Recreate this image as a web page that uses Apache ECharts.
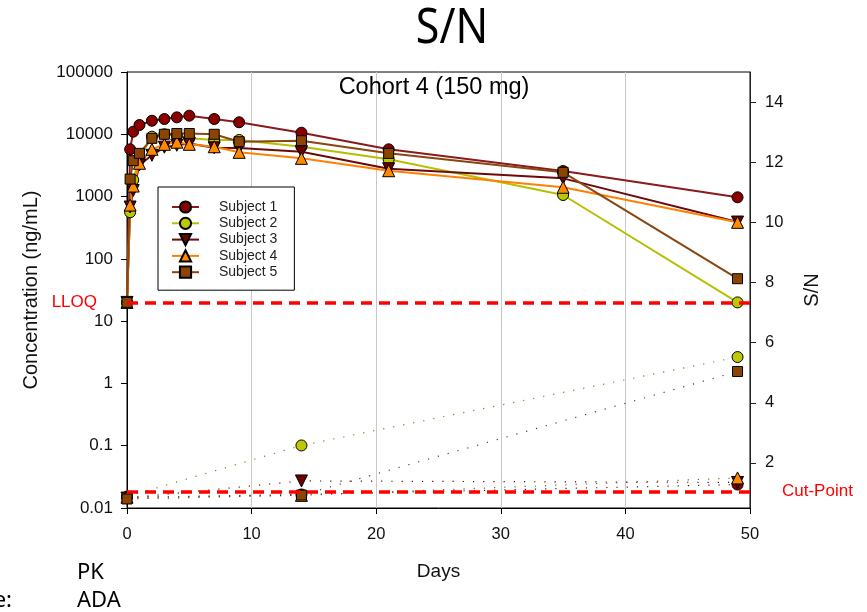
<!DOCTYPE html>
<html>
<head>
<meta charset="utf-8">
<title>S/N</title>
<script src="https://cdn.jsdelivr.net/npm/echarts@6/dist/echarts.min.js"></script>
<style>
  html, body { margin: 0; padding: 0; background: #fff; }
  #chart { width: 867px; height: 612px; }
</style>
</head>
<body>
<div id="chart"></div>
<script>
// Sampling days for the PK (concentration) profile
var pkDays = [0, 0.25, 0.5, 1, 2, 3, 4, 5, 7, 9, 14, 21, 35, 49];

// Serum concentration (ng/mL) per subject
var pkSubject1 = [20, 5740, 11000, 14100, 16500, 17600, 18700, 19900, 17600, 15600, 10600, 5740, 2570, 973];
var pkSubject2 = [20, 560, 1850, 4200, 9140, 10000, 9500, 8600, 8100, 8100, 6310, 3960, 1060, 20];
var pkSubject3 = [20, 680, 1250, 3210, 4600, 6210, 6660, 7120, 6060, 6000, 5250, 2800, 1960, 390];
var pkSubject4 = [20, 731, 1475, 3420, 5740, 6900, 7460, 6900, 6310, 5130, 4110, 2600, 1410, 386];
var pkSubject5 = [20, 1910, 3770, 4940, 8610, 10000, 10300, 10300, 10000, 7600, 7890, 4940, 2450, 48];

// ADA sampling days and signal-to-noise ratios
var adaDays = [0, 14, 49];
var snSubject1 = [0.85, 0.95, 1.28];
var snSubject2 = [0.88, 2.58, 5.52];
var snSubject3 = [0.83, 1.40, 1.35];
var snSubject4 = [0.86, 0.92, 1.50];
var snSubject5 = [0.80, 0.93, 5.04];

// Reference levels
var lloq = 20;
var cutPoint = 1.05;

// Axis ticks
var dayTicks = [0, 10, 20, 30, 40, 50];
var snTicks = [2, 4, 6, 8, 10, 12, 14];

var subjectNames = ['Subject 1', 'Subject 2', 'Subject 3', 'Subject 4', 'Subject 5'];

var ARIAL = '"Liberation Sans", Arial, sans-serif';
var NOTO = '"Noto Sans", "Open Sans", sans-serif';

var styles = [
  { symbol: 'circle', size: 11, rotate: 0, fill: '#8a0000', line: '#8b1a1a', dot: '#5a1010' },
  { symbol: 'circle', size: 11, rotate: 0, fill: '#bcc800', line: '#b4c000', dot: '#7a7d20' },
  { symbol: 'triangle', size: 12, rotate: 180, fill: '#6e0000', line: '#6b0a0a', dot: '#4a0808' },
  { symbol: 'triangle', size: 12, rotate: 0, fill: '#ff8a00', line: '#ff8000', dot: '#8a5a20' },
  { symbol: 'rect', size: 10, rotate: 0, fill: '#8b4500', line: '#8b4513', dot: '#5a3a1a' }
];

function pairs(xs, ys) {
  return xs.map(function (x, i) { return [x, ys[i]]; });
}

var pkData = [pkSubject1, pkSubject2, pkSubject3, pkSubject4, pkSubject5];
var snData = [snSubject1, snSubject2, snSubject3, snSubject4, snSubject5];

var series = [];

// Concentration profiles (solid lines, left log axis)
pkData.forEach(function (vals, i) {
  var st = styles[i];
  series.push({
    name: subjectNames[i],
    type: 'line',
    xAxisIndex: 0,
    yAxisIndex: 0,
    data: pairs(pkDays, vals),
    symbol: st.symbol,
    symbolSize: st.size,
    symbolRotate: st.rotate,
    showAllSymbol: true,
    lineStyle: { color: st.line, width: 2 },
    itemStyle: { color: st.fill, borderColor: '#000', borderWidth: 1 },
    z: 3
  });
});

// S/N results (dotted lines, right axis)
snData.forEach(function (vals, i) {
  var st = styles[i];
  series.push({
    name: subjectNames[i] + ' S/N',
    type: 'line',
    xAxisIndex: 0,
    yAxisIndex: 1,
    data: pairs(adaDays, vals),
    symbol: st.symbol,
    symbolSize: st.size,
    symbolRotate: st.rotate,
    showAllSymbol: true,
    lineStyle: { color: st.dot, width: 1.2, type: [1.2, 9] },
    itemStyle: { color: st.fill, borderColor: '#000', borderWidth: 1 },
    z: 3
  });
});

// LLOQ reference line on the concentration axis
series.push({
  name: 'LLOQ',
  type: 'line',
  xAxisIndex: 0,
  yAxisIndex: 0,
  data: [],
  silent: true,
  markLine: {
    silent: true,
    symbol: ['none', 'none'],
    lineStyle: { color: '#ff0000', width: 3.5, type: [11, 7] },
    label: {
      position: 'start', distance: 30, formatter: 'LLOQ',
      color: '#ff0000', fontFamily: ARIAL, fontSize: 17
    },
    data: [{ yAxis: lloq }]
  },
  z: 4
});

// Cut-point reference line on the S/N axis
series.push({
  name: 'Cut-Point',
  type: 'line',
  xAxisIndex: 0,
  yAxisIndex: 1,
  data: [],
  silent: true,
  markLine: {
    silent: true,
    symbol: ['none', 'none'],
    lineStyle: { color: '#ff0000', width: 3.5, type: [11, 7] },
    label: {
      position: 'end', distance: 32, formatter: 'Cut-Point',
      color: '#ff0000', fontFamily: ARIAL, fontSize: 17
    },
    data: [{ yAxis: cutPoint }]
  },
  z: 4
});

function plainNumber(v) {
  return String(+Number(v).toPrecision(6));
}

var option = {
  animation: false,
  backgroundColor: '#ffffff',
  grid: {
    left: 127, right: 117, top: 72, bottom: 104,
    show: true, borderColor: '#000', borderWidth: 1, backgroundColor: 'transparent'
  },
  graphic: [
    {
      type: 'text', x: 452, y: 29, scaleX: 0.86, silent: true,
      style: {
        text: 'S/N', font: '50px ' + NOTO, fill: '#000',
        textAlign: 'center', textVerticalAlign: 'middle',
        align: 'center', verticalAlign: 'middle'
      }
    },
    {
      type: 'text', x: 434, y: 88, silent: true, z: 10,
      style: {
        text: 'Cohort 4 (150 mg)', font: '23.5px ' + ARIAL, fill: '#000',
        textAlign: 'center', textVerticalAlign: 'middle',
        align: 'center', verticalAlign: 'middle'
      }
    },
    {
      type: 'text', x: 77, y: 573, silent: true,
      style: {
        text: 'PK', font: '22px ' + NOTO, fill: '#000',
        textAlign: 'left', textVerticalAlign: 'middle',
        align: 'left', verticalAlign: 'middle'
      }
    },
    {
      type: 'text', x: 77, y: 601, silent: true,
      style: {
        text: 'ADA', font: '22px ' + NOTO, fill: '#000',
        textAlign: 'left', textVerticalAlign: 'middle',
        align: 'left', verticalAlign: 'middle'
      }
    },
    {
      type: 'text', x: 12, y: 601, silent: true,
      style: {
        text: 'e:', font: '22px ' + NOTO, fill: '#000',
        textAlign: 'right', textVerticalAlign: 'middle',
        align: 'right', verticalAlign: 'middle'
      }
    }
  ],
  legend: {
    data: subjectNames,
    orient: 'vertical',
    left: 158,
    top: 187,
    itemWidth: 27,
    itemHeight: 14,
    itemGap: 2.3,
    padding: [13, 17, 11, 13],
    borderColor: '#000',
    borderWidth: 1,
    backgroundColor: '#fff',
    selectedMode: false,
    textStyle: { fontFamily: ARIAL, fontSize: 14, color: '#222', padding: [0, 0, 0, 15] }
  },
  xAxis: [{
    type: 'value',
    min: 0, max: 50, interval: 10,
    name: 'Days',
    nameLocation: 'middle',
    nameGap: 54,
    nameTextStyle: { fontFamily: ARIAL, fontSize: 19, color: '#111' },
    axisLine: { show: true, lineStyle: { color: '#000', width: 1 } },
    axisTick: { show: true, inside: false, length: 6, lineStyle: { color: '#000' } },
    axisLabel: {
      fontFamily: ARIAL, fontSize: 16.5, color: '#111', margin: 18,
      customValues: dayTicks
    },
    splitLine: { show: true, lineStyle: { color: '#c8c8c8', width: 1 } }
  }],
  yAxis: [
    {
      type: 'log', logBase: 10,
      min: 0.01, max: 100000,
      position: 'left',
      name: 'Concentration (ng/mL)',
      nameLocation: 'middle',
      nameGap: 86,
      nameTextStyle: { fontFamily: ARIAL, fontSize: 20, color: '#111' },
      axisLine: { show: true, lineStyle: { color: '#000', width: 1 } },
      axisTick: { show: true, inside: false, length: 6, lineStyle: { color: '#000' } },
      axisLabel: {
        fontFamily: ARIAL, fontSize: 17, color: '#111', margin: 14,
        formatter: plainNumber
      },
      splitLine: { show: false },
      minorTick: { show: false }
    },
    {
      type: 'value',
      min: 0.5, max: 15,
      position: 'right',
      name: 'S/N',
      nameLocation: 'middle',
      nameGap: 52,
      nameTextStyle: { fontFamily: ARIAL, fontSize: 20, color: '#111' },
      axisLine: { show: true, lineStyle: { color: '#222', width: 1 } },
      axisTick: { show: true, inside: false, length: 6, lineStyle: { color: '#222' }, customValues: snTicks },
      axisLabel: {
        fontFamily: ARIAL, fontSize: 16.5, color: '#111', margin: 15,
        customValues: snTicks
      },
      splitLine: { show: false }
    }
  ],
  series: series
};

var chart = echarts.init(document.getElementById('chart'), null, { renderer: 'canvas' });
chart.setOption(option);
</script>
</body>
</html>
